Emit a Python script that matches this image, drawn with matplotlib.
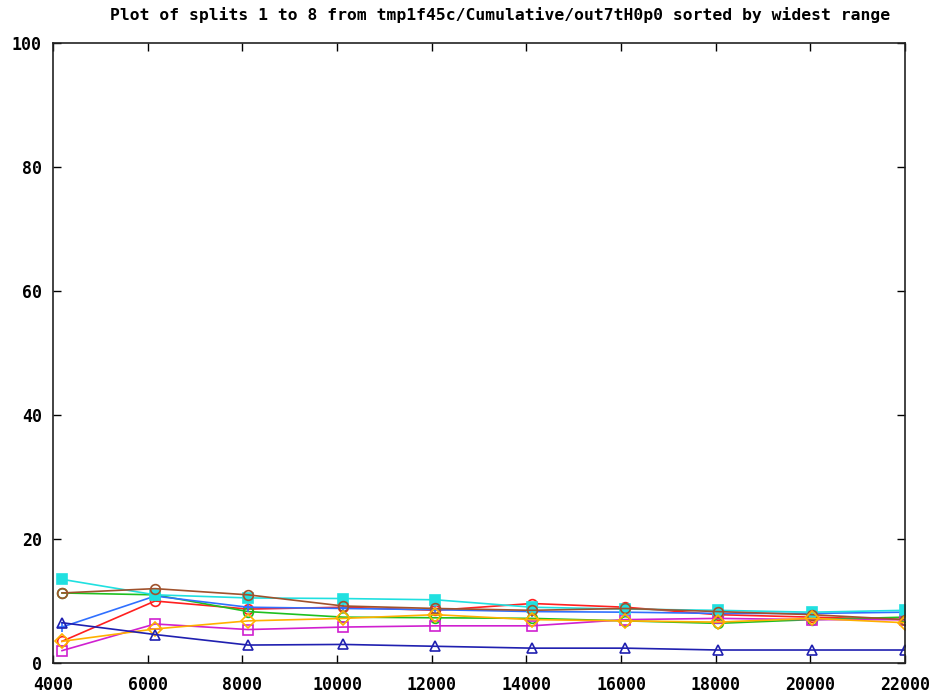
import matplotlib
matplotlib.use('Agg')
import matplotlib.pyplot as plt

x = [4190, 6155, 8120, 10130, 12080, 14120, 16090, 18040, 20030, 22000]

red = [3.5, 10.0, 8.7, 9.0, 8.5, 9.6, 9.0, 7.8, 7.4, 7.0]
green = [11.3, 11.0, 8.3, 7.4, 7.3, 7.2, 6.8, 6.4, 7.0, 7.4]
blue = [5.8, 10.8, 9.0, 8.8, 8.6, 8.3, 8.2, 8.0, 8.0, 8.2]
magenta = [2.0, 6.3, 5.4, 5.8, 6.0, 6.0, 7.0, 7.2, 7.0, 7.0]
cyan = [13.5, 11.0, 10.5, 10.4, 10.2, 9.0, 8.7, 8.5, 8.2, 8.5]
sienna = [11.3, 12.0, 11.0, 9.2, 8.8, 8.5, 8.8, 8.3, 7.8, 7.0]
orange = [3.5, 5.5, 6.8, 7.2, 7.8, 7.0, 6.8, 6.6, 7.2, 6.5]
navy = [6.5, 4.6, 2.9, 3.0, 2.7, 2.4, 2.4, 2.1, 2.1, 2.1]

title = "Plot of splits 1 to 8 from tmp1f45c/Cumulative/out7tH0p0 sorted by widest range"

fig = plt.figure(figsize=(9.4, 6.98), dpi=100, facecolor='white')
ax = fig.add_axes([0.0564, 0.0501, 0.9064, 0.8883])

# (values, colour, marker, filled)
series = [
    (red, '#ff2020', 'o', False),
    (green, '#20c020', 'o', False),
    (blue, '#3070ff', '+', False),
    (magenta, '#d020d0', 's', False),
    (cyan, '#20e0e0', 's', True),
    (sienna, '#a0522d', 'o', False),
    (orange, '#ffb000', 'D', False),
    (navy, '#2020b0', '^', False),
]
for vals, col, mk, filled in series:
    ax.plot(x, vals, color=col, lw=1.2, marker=mk, markersize=7,
            markerfacecolor=col if filled else 'none', markeredgecolor=col,
            markeredgewidth=1.2)

ax.set_xlim(4000, 22000)
ax.set_ylim(0, 100)
ax.set_xticks(range(4000, 22001, 2000))
ax.set_yticks(range(0, 101, 20))
ax.tick_params(direction='in', length=6, width=1, top=True, right=True,
               labelsize=12)
ax.tick_params(axis='x', pad=9)
ax.tick_params(axis='y', pad=8)
for lab in ax.get_xticklabels() + ax.get_yticklabels():
    lab.set_fontfamily('DejaVu Sans Mono')
    lab.set_fontweight('bold')
for s in ax.spines.values():
    s.set_linewidth(1.2)
    s.set_color('#222222')

fig.text(0.532, 0.978, title, ha='center', va='center', fontsize=11.8,
         fontfamily='DejaVu Sans Mono', fontweight='bold')

fig.savefig('out.png', dpi=100)
